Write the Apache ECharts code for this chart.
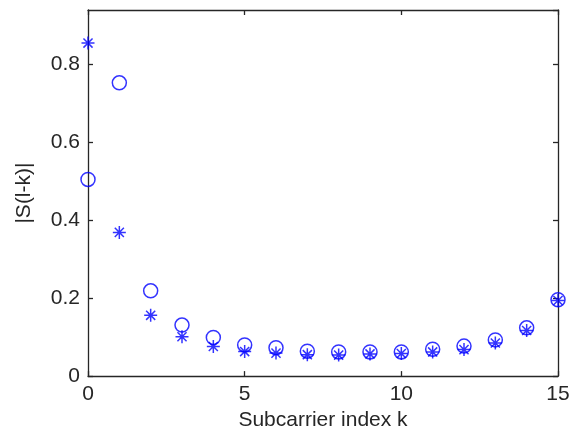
<!DOCTYPE html>
<html>
<head>
<meta charset="utf-8">
<script src="https://cdn.jsdelivr.net/npm/echarts@6/dist/echarts.min.js"></script>
<style>html,body{margin:0;padding:0;background:#fff}#c{width:574px;height:436px}</style>
</head>
<body>
<div id="c"></div>
<script>
var kIndex = [0,1,2,3,4,5,6,7,8,9,10,11,12,13,14,15];
var circleVals = [0.505,0.753,0.219,0.131,0.099,0.080,0.073,0.064,0.062,0.062,0.062,0.069,0.077,0.093,0.124,0.196];
var starVals = [0.855,0.369,0.156,0.101,0.076,0.063,0.059,0.055,0.054,0.057,0.058,0.062,0.068,0.085,0.117,0.194];
var xTicks = [0,5,10,15];
var yTicks = [0,0.2,0.4,0.6,0.8];

var font = 'Liberation Sans';
var txt = '#262626';
var blue = '#0000ff';
var starPath = 'path://M0,-10L0,10M-10,0L10,0M-7,-7L7,7M-7,7L7,-7';

var chart = echarts.init(document.getElementById('c'), null, {renderer:'canvas'});
function pairs(vals){ return kIndex.map(function(k,i){ return [k, vals[i]]; }); }
var axLine = {show:true, onZero:false, lineStyle:{color:txt, width:1.3}};
var tick = {show:true, inside:true, length:5, lineStyle:{color:txt, width:1.3}};
chart.setOption({
  animation:false,
  backgroundColor:'#fff',
  grid:{left:88, right:16, top:10, bottom:58, show:false},
  xAxis:[{
    type:'value', min:0, max:15, interval:5, position:'bottom',
    axisLine:axLine, axisTick:tick, splitLine:{show:false},
    axisLabel:{color:txt, fontFamily:font, fontSize:21, margin:8,
      formatter:function(v){ return xTicks.indexOf(v)>=0 ? String(v) : ''; }},
    name:'Subcarrier index k', nameLocation:'middle', nameGap:33,
    nameTextStyle:{color:txt, fontFamily:font, fontSize:21}
  },{
    type:'value', min:0, max:15, interval:5, position:'top',
    axisLine:axLine, axisTick:tick, splitLine:{show:false}, axisLabel:{show:false}
  }],
  yAxis:[{
    type:'value', min:0, max:0.94, interval:0.2, position:'left',
    axisLine:axLine, axisTick:tick, splitLine:{show:false},
    axisLabel:{color:txt, fontFamily:font, fontSize:21, margin:8, showMaxLabel:false,
      formatter:function(v){ return yTicks.indexOf(+v.toFixed(2))>=0 ? (v===0?'0':v.toFixed(1)) : ''; }},
    name:'|S(l-k)|', nameLocation:'middle', nameGap:53,
    nameTextStyle:{color:txt, fontFamily:font, fontSize:21}
  },{
    type:'value', min:0, max:0.94, interval:0.2, position:'right',
    axisLine:axLine, axisTick:tick, splitLine:{show:false}, axisLabel:{show:false}
  }],
  series:[{
    type:'scatter', data:pairs(circleVals), symbol:'circle', symbolSize:14,
    itemStyle:{color:'rgba(0,0,0,0)', borderColor:blue, borderWidth:1.5}, z:3
  },{
    type:'scatter', data:pairs(starVals), symbol:starPath, symbolSize:13,
    itemStyle:{color:'rgba(0,0,0,0)', borderColor:blue, borderWidth:1.5}, z:4
  }]
});
</script>
</body>
</html>
